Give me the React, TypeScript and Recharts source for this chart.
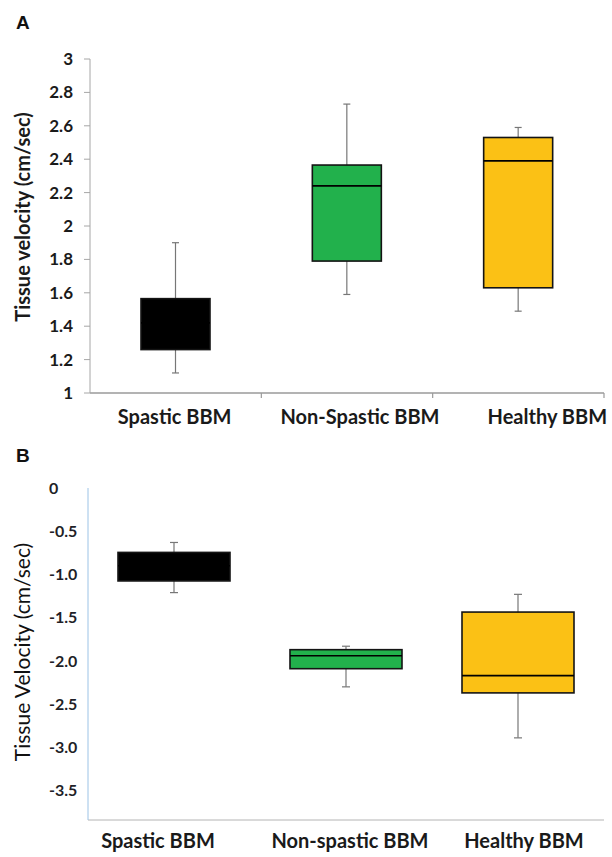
import { ComposedChart, Bar, XAxis, YAxis } from 'recharts';

// panel A: tissue velocity, positive
const CATEGORIES_A = ['Spastic BBM', 'Non-Spastic BBM', 'Healthy BBM'];
const MIN_A = [1.12, 1.59, 1.49];
const Q1_A = [1.26, 1.79, 1.63];
const MEDIAN_A = [1.42, 2.24, 2.39];
const Q3_A = [1.565, 2.365, 2.53];
const MAX_A = [1.9, 2.73, 2.59];
const TICKS_A = [1, 1.2, 1.4, 1.6, 1.8, 2, 2.2, 2.4, 2.6, 2.8, 3];

// panel B: tissue velocity, negative
const CATEGORIES_B = ['Spastic BBM', 'Non-spastic BBM', 'Healthy BBM'];
const MIN_B = [-1.21, -2.3, -2.89];
const Q1_B = [-1.075, -2.09, -2.37];
const MEDIAN_B = [-0.9, -1.94, -2.17];
const Q3_B = [-0.745, -1.87, -1.435];
const MAX_B = [-0.63, -1.83, -1.23];
const TICKS_B = [0, -0.5, -1, -1.5, -2, -2.5, -3, -3.5];

const FILLS = ['#000000', '#22b14c', '#fbc115'];
const FONT = 'Lato, "Open Sans", sans-serif';

// labels in the source are not quite centred under their boxes
const NUDGE_A = [-1, 13, 29];
const NUDGE_B = [-16, 4, 6];

type Row = {
  name: string;
  min: number;
  q1: number;
  median: number;
  q3: number;
  max: number;
  fill: string;
};

const buildRows = (
  cats: string[],
  mins: number[],
  q1s: number[],
  meds: number[],
  q3s: number[],
  maxs: number[]
): Row[] =>
  cats.map((name, i) => ({
    name,
    min: mins[i],
    q1: q1s[i],
    median: meds[i],
    q3: q3s[i],
    max: maxs[i],
    fill: FILLS[i],
  }));

const rowsA = buildRows(CATEGORIES_A, MIN_A, Q1_A, MEDIAN_A, Q3_A, MAX_A);
const rowsB = buildRows(CATEGORIES_B, MIN_B, Q1_B, MEDIAN_B, Q3_B, MAX_B);

function BoxShape(props: any) {
  const { x, y, width, height, payload, cap } = props;
  const top = Math.min(y, y + height);
  const h = Math.abs(height);
  // pixels per unit, taken from the bar the scale already placed
  const ppu = h / (payload.q3 - payload.q1);
  const cx = x + width / 2;
  const wTop = top - (payload.max - payload.q3) * ppu;
  const wBot = top + h + (payload.q1 - payload.min) * ppu;
  const medY = top + (payload.q3 - payload.median) * ppu;
  return (
    <g>
      <line x1={cx} x2={cx} y1={wTop} y2={wBot} stroke="#777" strokeWidth={1.2} />
      <line x1={cx - cap / 2} x2={cx + cap / 2} y1={wTop} y2={wTop} stroke="#777" strokeWidth={1.2} />
      <line x1={cx - cap / 2} x2={cx + cap / 2} y1={wBot} y2={wBot} stroke="#777" strokeWidth={1.2} />
      <rect x={x} y={top} width={width} height={h} fill={payload.fill} stroke="#141414" strokeWidth={1.6} />
      <line x1={x} x2={x + width} y1={medY} y2={medY} stroke="#000" strokeWidth={1.6} />
    </g>
  );
}

function CatTick(props: any) {
  const { x, y, payload, index, nudges, dy, edgeTicks, width, visibleTicksCount } = props;
  const band = width / visibleTicksCount;
  return (
    <g>
      {edgeTicks && (
        <line x1={x + band / 2} x2={x + band / 2} y1={y} y2={y + 5} stroke="#9a9a9a" strokeWidth={1.2} />
      )}
      <text
        x={x + nudges[index]}
        y={y + dy}
        textAnchor="middle"
        fill="#1a1a1a"
        fontFamily={FONT}
        fontWeight={700}
        fontSize={20}
      >
        {payload.value}
      </text>
    </g>
  );
}

function LeftTick(props: any) {
  const { y, payload } = props;
  return (
    <text x={49} y={y} dy="0.35em" textAnchor="start" fill="#1f1f28" fontFamily={FONT} fontWeight={700} fontSize={16}>
      {payload.value === 0 ? '0' : payload.value.toFixed(1)}
    </text>
  );
}

export default function App() {
  return (
    <div style={{ position: 'relative', width: 612, height: 857, background: '#fff', overflow: 'hidden' }}>
      <style>{'body{margin:0}'}</style>

      <div style={{ position: 'absolute', left: 0, top: 0 }}>
        <ComposedChart width={612} height={440} data={rowsA} margin={{ top: 59, right: 8, left: 0, bottom: 0 }}>
          <XAxis
            dataKey="name"
            type="category"
            axisLine={{ stroke: '#9a9a9a', strokeWidth: 1.3 }}
            tickLine={false}
            tickSize={0}
            tickMargin={0}
            height={47}
            interval={0}
            tick={<CatTick nudges={NUDGE_A} dy={31} edgeTicks />}
          />
          <YAxis
            type="number"
            domain={[1, 3]}
            ticks={TICKS_A}
            interval={0}
            width={90}
            tickSize={6}
            tickMargin={11}
            stroke="#a6a6a6"
            tick={{ fill: '#1a1a1a', fontSize: 17, fontWeight: 700, fontFamily: FONT }}
          />
          <Bar
            dataKey={(d: Row) => [d.q1, d.q3]}
            barSize={69}
            isAnimationActive={false}
            shape={(p: any) => <BoxShape {...p} cap={7} />}
          />
        </ComposedChart>
      </div>

      <div style={{ position: 'absolute', left: 0, top: 430 }}>
        <ComposedChart width={612} height={427} data={rowsB} margin={{ top: 58, right: 8, left: 0, bottom: 0 }}>
          <XAxis
            dataKey="name"
            type="category"
            stroke="#b4b4b4"
            tickLine={false}
            tickSize={0}
            tickMargin={0}
            height={37}
            interval={0}
            tick={<CatTick nudges={NUDGE_B} dy={28} />}
          />
          <YAxis
            type="number"
            domain={[-3.84, 0]}
            ticks={TICKS_B}
            interval={0}
            width={88}
            tickLine={false}
            stroke="#9cc3e6"
            tick={<LeftTick />}
          />
          <Bar
            dataKey={(d: Row) => [d.q1, d.q3]}
            barSize={112}
            isAnimationActive={false}
            shape={(p: any) => <BoxShape {...p} cap={8} />}
          />
        </ComposedChart>
      </div>

      <svg width={612} height={857} style={{ position: 'absolute', left: 0, top: 0, pointerEvents: 'none' }}>
        <text x={16} y={29} fontFamily='"Liberation Sans", Arial, sans-serif' fontWeight={700} fontSize={19} fill="#111">
          A
        </text>
        <text x={16} y={462} fontFamily='"Liberation Sans", Arial, sans-serif' fontWeight={700} fontSize={19} fill="#111">
          B
        </text>
        <text
          transform="translate(30,217) rotate(-90)"
          textAnchor="middle"
          fontFamily={FONT}
          fontWeight={700}
          fontSize={20}
          fill="#1a1a1a"
        >
          Tissue velocity (cm/sec)
        </text>
        <text
          transform="translate(30,652) rotate(-90)"
          textAnchor="middle"
          fontFamily={FONT}
          fontWeight={400}
          fontSize={21}
          fill="#111"
        >
          Tissue Velocity (cm/sec)
        </text>
      </svg>
    </div>
  );
}
